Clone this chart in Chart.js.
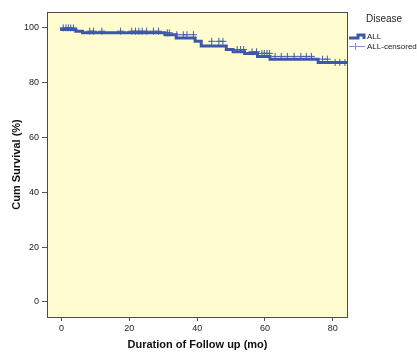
<!DOCTYPE html>
<html>
<head>
<meta charset="utf-8">
<script src="https://cdn.jsdelivr.net/npm/chart.js@4/dist/chart.umd.min.js"></script>
<style>
  html, body { margin: 0; padding: 0; background: #fff; }
  #wrap { width: 417px; height: 352px; }
</style>
</head>
<body>
<div id="wrap"><canvas id="kmChart" width="417" height="352"></canvas></div>
<script>
// Kaplan-Meier steps (time in months, cumulative survival %)
const kmTimes = [0, 4.2, 6.2, 30.5, 33.8, 39.4, 41.2, 48.6, 50.6, 54.0, 57.8, 61.5, 75.7, 79.6, 84.5];
const kmSurvival = [100, 99.4, 98.8, 98.2, 97.5, 96.3, 95.1, 93.4, 92.1, 91.3, 90.7, 89.6, 88.6, 87.4, 87.4];

// censored observations (months)
const censoredTimes = [
  0.5, 1.3, 2.0, 2.7, 3.5, 8.3, 9.4, 11.9, 17.4, 20.7, 21.8, 22.8, 23.8, 25.1,
  27.1, 28.6, 31.2, 31.8, 34.0, 35.9, 37.0, 38.9, 44.3, 46.4, 47.6, 51.8, 52.8,
  53.7, 56.2, 57.5, 59.1, 59.8, 60.6, 61.3, 63.0, 64.8, 66.6, 68.6, 70.6, 72.2,
  73.7, 77.0, 78.4, 80.7, 82.1, 83.6
];

const xTicks = [0, 20, 40, 60, 80];
const yTicks = [0, 20, 40, 60, 80, 100];

const blue = '#3D57AB';
const fontFamily = '"Liberation Sans", Arial, sans-serif';

// survival level in force at time t
function survivalAt(t) {
  let s = kmSurvival[0];
  for (let i = 0; i < kmTimes.length; i++) {
    if (kmTimes[i] <= t) s = kmSurvival[i];
  }
  return s;
}

const kmPoints = kmTimes.map((t, i) => ({x: t, y: kmSurvival[i]}));
const censoredPoints = censoredTimes.map(t => ({x: t, y: survivalAt(t)}));

const plotFrame = {
  id: 'plotFrame',
  beforeDraw(chart) {
    const {ctx, chartArea: a} = chart;
    ctx.save();
    ctx.fillStyle = '#FFFDCF';
    ctx.fillRect(a.left, a.top, a.right - a.left, a.bottom - a.top);
    ctx.restore();
  },
  afterDraw(chart) {
    const {ctx, chartArea: a} = chart;
    ctx.save();
    ctx.strokeStyle = '#4a4a4a';
    ctx.lineWidth = 1;
    ctx.strokeRect(a.left + 0.5, a.top + 0.5, a.right - a.left - 1, a.bottom - a.top);

    // legend
    const lx = a.right + 1;
    ctx.fillStyle = '#222';
    ctx.font = '10px ' + fontFamily;
    ctx.textBaseline = 'middle';
    ctx.fillText('Disease', lx + 17, 19);

    ctx.strokeStyle = blue;
    ctx.lineWidth = 3;
    ctx.beginPath();
    ctx.moveTo(lx, 38);
    ctx.lineTo(lx + 9, 38);
    ctx.lineTo(lx + 9, 35);
    ctx.lineTo(lx + 15, 35);
    ctx.lineTo(lx + 15, 39);
    ctx.stroke();
    ctx.font = '8px ' + fontFamily;
    ctx.fillText('ALL', lx + 18, 37);

    ctx.strokeStyle = '#7F8FCF';
    ctx.lineWidth = 1;
    ctx.beginPath();
    ctx.moveTo(lx, 46.5);
    ctx.lineTo(lx + 16, 46.5);
    ctx.moveTo(lx + 6.5, 43);
    ctx.lineTo(lx + 6.5, 50);
    ctx.stroke();
    ctx.fillText('ALL-censored', lx + 18, 46.5);
    ctx.restore();
  }
};

new Chart(document.getElementById('kmChart'), {
  type: 'line',
  data: {
    datasets: [{
      label: 'ALL',
      data: kmPoints,
      stepped: 'after',
      borderColor: blue,
      borderWidth: 3,
      pointRadius: 0,
      fill: false
    }, {
      label: 'ALL-censored',
      type: 'scatter',
      data: censoredPoints,
      pointStyle: 'cross',
      pointRadius: 3.5,
      borderColor: blue,
      borderWidth: 1,
      showLine: false
    }]
  },
  options: {
    responsive: false,
    animation: false,
    layout: {padding: {top: 12, right: 69, left: 0, bottom: 0}},
    plugins: {
      legend: {display: false},
      tooltip: {enabled: false}
    },
    scales: {
      x: {
        type: 'linear',
        min: -4.3,
        max: 84.5,
        afterBuildTicks: s => { s.ticks = xTicks.map(v => ({value: v})); },
        afterFit: s => { s.height = 35; },
        grid: {drawOnChartArea: false, tickLength: 4, color: '#555'},
        border: {display: false},
        ticks: {color: '#222', font: {family: fontFamily, size: 9}, padding: 2, maxRotation: 0},
        title: {
          display: true,
          text: 'Duration of Follow up (mo)',
          color: '#111',
          font: {family: fontFamily, size: 11, weight: 'bold'},
          padding: {top: 0, bottom: 0}
        }
      },
      y: {
        type: 'linear',
        min: -5.5,
        max: 105.8,
        afterBuildTicks: s => { s.ticks = yTicks.map(v => ({value: v})); },
        afterFit: s => { s.width = 47; },
        grid: {drawOnChartArea: false, tickLength: 5, color: '#555'},
        border: {display: false},
        ticks: {color: '#222', font: {family: fontFamily, size: 9}, padding: 3},
        title: {
          display: true,
          text: 'Cum Survival (%)',
          color: '#111',
          font: {family: fontFamily, size: 11, weight: 'bold'},
          padding: {top: 10, bottom: 0}
        }
      }
    }
  },
  plugins: [plotFrame]
});
</script>
</body>
</html>
